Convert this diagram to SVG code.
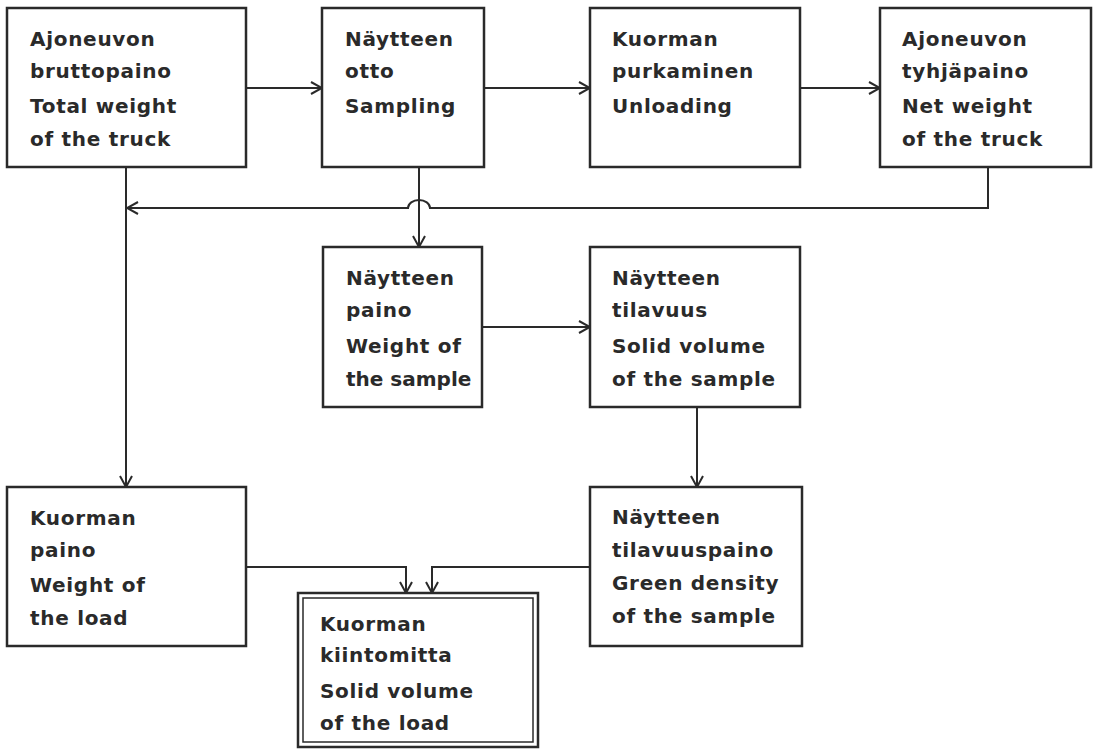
<svg xmlns="http://www.w3.org/2000/svg" width="1099" height="751" viewBox="0 0 1099 751">
<defs>
<marker id="arr" viewBox="0 0 14 14" refX="13" refY="7" markerWidth="14" markerHeight="14" markerUnits="userSpaceOnUse" orient="auto">
<path d="M2,1 L13,7 L2,13" fill="none" stroke="#2a2a2a" stroke-width="2"/>
</marker>
</defs>
<style>
rect.box{fill:#fff;stroke:#2a2a2a;stroke-width:2.5}
.c{fill:none;stroke:#2a2a2a;stroke-width:2}
text{font-family:"DejaVu Sans","Liberation Sans",sans-serif;font-weight:bold;font-size:20px;fill:#2a2a2a;letter-spacing:0.7px}
text.t{letter-spacing:0px}
</style>
<rect width="1099" height="751" fill="#fff"/>
<g id="connectors">
<path class="c" d="M246,88 H322" marker-end="url(#arr)"/>
<path class="c" d="M484,88 H590" marker-end="url(#arr)"/>
<path class="c" d="M800,88 H880" marker-end="url(#arr)"/>
<path class="c" d="M988,167 V208 H430 A11,8 0 0 0 408,208 H127" marker-end="url(#arr)"/>
<path class="c" d="M126,167 V487" marker-end="url(#arr)"/>
<path class="c" d="M419,167 V247" marker-end="url(#arr)"/>
<path class="c" d="M482,327 H590" marker-end="url(#arr)"/>
<path class="c" d="M697,407 V487" marker-end="url(#arr)"/>
<path class="c" d="M246,567 H406 V593" marker-end="url(#arr)"/>
<path class="c" d="M590,567 H432 V593" marker-end="url(#arr)"/>
</g>
<g id="n1"><rect class="box" x="7" y="8" width="239" height="159"/>
<text x="30" y="46">Ajoneuvon</text><text x="30" y="78">bruttopaino</text><text x="30" y="113">Total weight</text><text x="30" y="146">of the truck</text></g>
<g id="n2"><rect class="box" x="322" y="8" width="162" height="159"/>
<text x="345" y="46">Näytteen</text><text x="345" y="78">otto</text><text x="345" y="113">Sampling</text></g>
<g id="n3"><rect class="box" x="590" y="8" width="210" height="159"/>
<text x="612" y="46">Kuorman</text><text x="612" y="78">purkaminen</text><text x="612" y="113">Unloading</text></g>
<g id="n4"><rect class="box" x="880" y="8" width="211" height="159"/>
<text x="902" y="46">Ajoneuvon</text><text x="902" y="78">tyhjäpaino</text><text x="902" y="113">Net weight</text><text x="902" y="146">of the truck</text></g>
<g id="n5"><rect class="box" x="323" y="247" width="159" height="160"/>
<text x="346" y="285">Näytteen</text><text x="346" y="317">paino</text><text x="346" y="353">Weight of</text><text class="t" x="346" y="386">the sample</text></g>
<g id="n6"><rect class="box" x="590" y="247" width="210" height="160"/>
<text x="612" y="285">Näytteen</text><text x="612" y="317">tilavuus</text><text x="612" y="353">Solid volume</text><text x="612" y="386">of the sample</text></g>
<g id="n7"><rect class="box" x="7" y="487" width="239" height="159"/>
<text x="30" y="525">Kuorman</text><text x="30" y="557">paino</text><text x="30" y="592">Weight of</text><text x="30" y="625">the load</text></g>
<g id="n8"><rect class="box" x="590" y="487" width="212" height="159"/>
<text x="612" y="524">Näytteen</text><text x="612" y="557">tilavuuspaino</text><text x="612" y="590">Green density</text><text x="612" y="623">of the sample</text></g>
<g id="n9"><rect class="box" x="298" y="593" width="240" height="154"/>
<rect class="box" x="303" y="598" width="230" height="144" style="stroke-width:1.5"/>
<text x="320" y="631">Kuorman</text><text x="320" y="662">kiintomitta</text><text x="320" y="698">Solid volume</text><text x="320" y="730">of the load</text></g>
</svg>
